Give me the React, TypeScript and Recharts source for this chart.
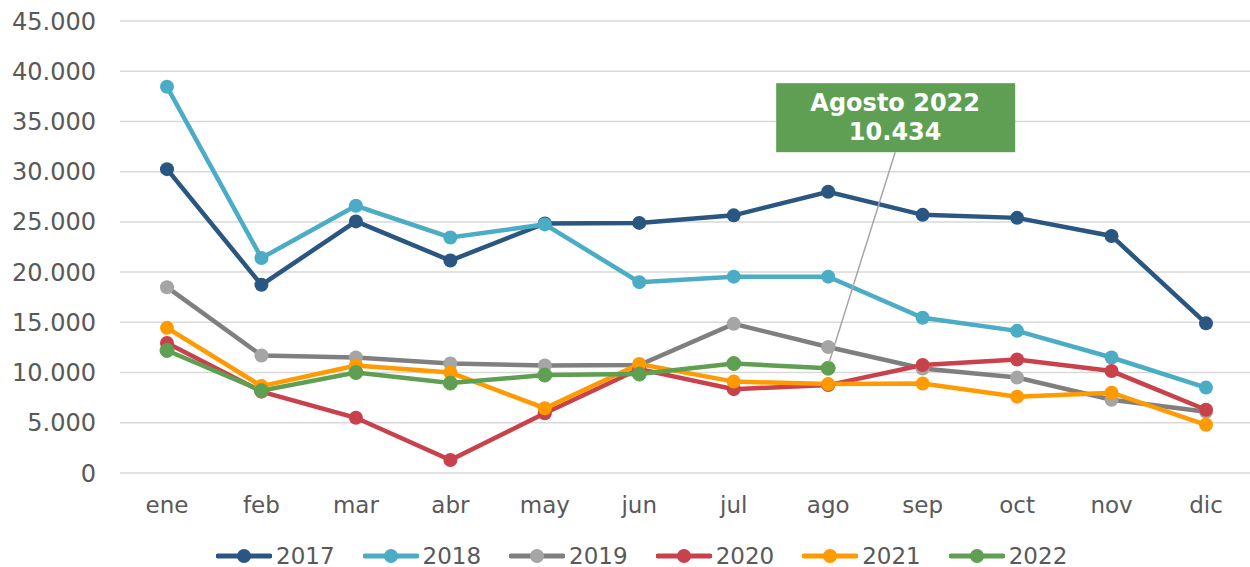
import React from 'react';
import { LineChart, Line, XAxis, YAxis, CartesianGrid } from 'recharts';

// ─── Data ─────────────────────────────────────────────────────────────────────

const months = ['ene', 'feb', 'mar', 'abr', 'may', 'jun', 'jul', 'ago', 'sep', 'oct', 'nov', 'dic'];

const y2017 = [30250, 18730, 25050, 21150, 24850, 24900, 25650, 28000, 25700, 25400, 23600, 14900];
const y2018 = [38450, 21400, 26600, 23450, 24750, 19000, 19550, 19550, 15450, 14150, 11500, 8500];
const y2019 = [18500, 11700, 11500, 10900, 10700, 10750, 14850, 12550, 10400, 9500, 7300, 6100];
const y2020 = [12950, 8100, 5500, 1300, 5950, 10350, 8350, 8750, 10750, 11300, 10150, 6300];
const y2021 = [14450, 8650, 10700, 10000, 6450, 10850, 9100, 8850, 8900, 7600, 8000, 4800];
const y2022 = [12200, 8200, 10000, 8950, 9750, 9850, 10900, 10434];

const yTicks = [0, 5000, 10000, 15000, 20000, 25000, 30000, 35000, 40000, 45000];

const annotationTitle = 'Agosto 2022';
const annotationIndex = 7;

const series = [
    { key: 'y2017', name: '2017', values: y2017, color: '#2a5682', dotColor: '#2a5682' },
    { key: 'y2018', name: '2018', values: y2018, color: '#4bacc6', dotColor: '#4bacc6' },
    { key: 'y2019', name: '2019', values: y2019, color: '#7f7f7f', dotColor: '#a5a5a5' },
    { key: 'y2020', name: '2020', values: y2020, color: '#c8414b', dotColor: '#c8414b' },
    { key: 'y2021', name: '2021', values: y2021, color: '#ff9a00', dotColor: '#ff9a00' },
    { key: 'y2022', name: '2022', values: y2022, color: '#5e9f52', dotColor: '#5e9f52' },
];

const data = months.map((m, i) => {
    const row: Record<string, string | number | null> = { month: m };
    series.forEach((s) => {
        row[s.key] = i < s.values.length ? s.values[i] : null;
    });
    return row;
});

// ─── Helpers ──────────────────────────────────────────────────────────────────

const FONT = '"DejaVu Sans", Verdana, sans-serif';
const TEXT = '#595959';

const fmt = (v: number) => String(v).replace(/\B(?=(\d{3})+(?!\d))/g, '.');

const YTick = (props: any) => {
    const { x, y, payload } = props;
    return (
        <text x={x - 24} y={y + 8.5} textAnchor="end" fill={TEXT} fontSize={24} fontFamily={FONT}>
            {fmt(payload.value)}
        </text>
    );
};

const XTick = (props: any) => {
    const { x, y, payload } = props;
    return (
        <text x={x} y={y + 40} textAnchor="middle" fill={TEXT} fontSize={23} fontFamily={FONT}>
            {payload.value}
        </text>
    );
};

// dot of the 2022 series; the last point carries the callout box
const Dot2022 = (props: any) => {
    const { cx, cy, index, value } = props;
    if (cx == null || cy == null) return <g key={index} />;
    const c = series[5].color;
    return (
        <g key={index}>
            <circle cx={cx} cy={cy} r={7} fill={c} stroke={c} />
            {index === annotationIndex && (
                <g>
                    <line x1={cx + 1} y1={cy - 6} x2={cx + 67} y2={cy - 216} stroke="#a6a6a6" strokeWidth={1.5} />
                    <rect x={cx - 52} y={cy - 285} width={239} height={69} fill="#5f9f53" />
                    <text x={cx + 67} y={cy - 257} textAnchor="middle" fill="#fff" fontSize={24} fontWeight="bold" fontFamily={FONT}>
                        {annotationTitle}
                    </text>
                    <text x={cx + 67} y={cy - 228} textAnchor="middle" fill="#fff" fontSize={24} fontWeight="bold" fontFamily={FONT}>
                        {fmt(value)}
                    </text>
                </g>
            )}
        </g>
    );
};

// ─── Legend ───────────────────────────────────────────────────────────────────

const LegendRow: React.FC = () => (
    <div
        style={{
            position: 'absolute',
            left: 216,
            top: 544,
            height: 24,
            display: 'flex',
            alignItems: 'center',
            fontFamily: FONT,
            fontSize: 23,
            color: TEXT,
            lineHeight: 1,
        }}
    >
        {series.map((s, i) => (
            <div key={s.key} style={{ display: 'flex', alignItems: 'center', marginRight: i < series.length - 1 ? 28 : 0 }}>
                <svg width={56} height={16}>
                    <line x1={2} y1={8} x2={54} y2={8} stroke={s.color} strokeWidth={5} strokeLinecap="round" />
                    <circle cx={28} cy={8} r={7} fill={s.dotColor} />
                </svg>
                <span style={{ marginLeft: 4 }}>{s.name}</span>
            </div>
        ))}
    </div>
);

// ─── Component ────────────────────────────────────────────────────────────────

export default function App() {
    return (
        <div style={{ position: 'absolute', left: 0, top: 0, width: 1250, height: 567, overflow: 'hidden', background: '#fff' }}>
            <LineChart width={1256} height={567} data={data} margin={{ top: 21, right: 3, left: 0, bottom: 0 }}>
                <CartesianGrid vertical={false} stroke="#d9d9d9" strokeWidth={1.5} />
                <XAxis
                    dataKey="month"
                    height={94}
                    axisLine={false}
                    tickLine={false}
                    tickSize={0}
                    tickMargin={0}
                    interval={0}
                    padding={{ left: 47, right: 47 }}
                    tick={<XTick />}
                />
                <YAxis
                    width={120}
                    domain={[0, 45000]}
                    ticks={yTicks}
                    interval={0}
                    axisLine={false}
                    tickLine={false}
                    tickSize={0}
                    tickMargin={0}
                    tick={<YTick />}
                />
                {series.map((s) => (
                    <Line
                        key={s.key}
                        dataKey={s.key}
                        name={s.name}
                        type="linear"
                        stroke={s.color}
                        strokeWidth={4.5}
                        dot={s.key === 'y2022' ? Dot2022 : { r: 7, fill: s.dotColor, stroke: s.dotColor, strokeWidth: 0 }}
                        activeDot={false}
                        isAnimationActive={false}
                    />
                ))}
            </LineChart>
            <LegendRow />
        </div>
    );
}
